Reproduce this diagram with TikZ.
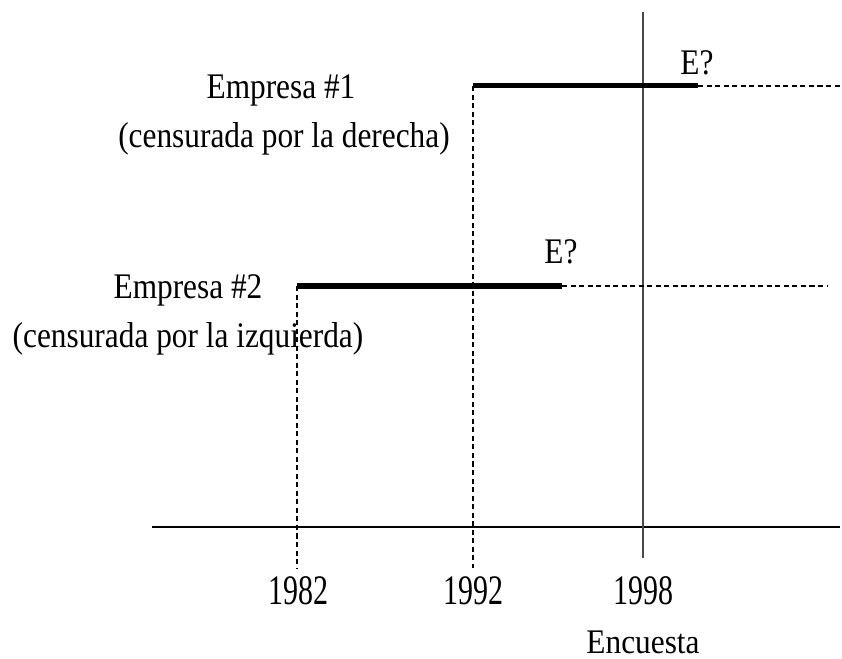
\documentclass[tikz,border=0pt]{standalone}
\usepackage{fontspec}
\setmainfont{Liberation Serif}
\newcommand{\stretchtxt}[2]{\scalebox{1}[#1]{#2}}
\begin{document}
\begin{tikzpicture}[x=0.75pt,y=-0.75pt,
  lbl/.style={anchor=base,inner sep=0pt,font=\fontsize{23.5}{28}\selectfont},
  yr/.style={anchor=base,inner sep=0pt,font=\fontsize{22.5}{28}\selectfont},
  thickspan/.style={line width=3.75pt},
  cens/.style={line width=1.1pt,dash pattern=on 3.8pt off 2.6pt},
  axisline/.style={line width=1.5pt},
  survey/.style={line width=1.5pt,draw=black!72}]
\useasboundingbox (0,0) rectangle (842,659);
% coordinates
\coordinate (a1) at (473,86);
\coordinate (b1) at (698,86);
\coordinate (c1) at (842,86);
\coordinate (a2) at (297,286);
\coordinate (b2) at (562,286);
\coordinate (c2) at (828,286);
\coordinate (ax0) at (152,527);
\coordinate (ax1) at (840,527);
\coordinate (vt) at (643,12);
\coordinate (vb) at (643,558);
\coordinate (d1) at (473,568);
\coordinate (d2) at (297,568);
% labels
\node[lbl] (e1) at (281,99) {\stretchtxt{1.15}{Empresa \#1}};
\node[lbl] (e1b) at (284,148) {\stretchtxt{1.15}{(censurada por la derecha)}};
\node[lbl] (e2) at (188,298) {\stretchtxt{1.15}{Empresa \#2}};
\node[lbl] (e2b) at (188,347) {\stretchtxt{1.15}{(censurada por la izquierda)}};
\node[lbl] (q1) at (697,75) {\stretchtxt{1.15}{E?}};
\node[lbl] (q2) at (561,263) {\stretchtxt{1.15}{E?}};
\node[yr] (y82) at (298,604) {\stretchtxt{1.4}{1982}};
\node[yr] (y92) at (473,604) {\stretchtxt{1.4}{1992}};
\node[yr] (y98) at (643,604) {\stretchtxt{1.4}{1998}};
\node[lbl] (enc) at (643,653) {\stretchtxt{1.1}{Encuesta}};
% lines
\draw[axisline] (ax0) -- (ax1);
\draw[survey] (vt) -- (vb);
\draw[cens] (a1) -- (d1);
\draw[cens] (a2) -- (d2);
\draw[cens] (b1) -- (c1);
\draw[cens] (b2) -- (c2);
\draw[thickspan] (a1) -- (b1);
\draw[thickspan] (a2) -- (b2);
\end{tikzpicture}
\end{document}
